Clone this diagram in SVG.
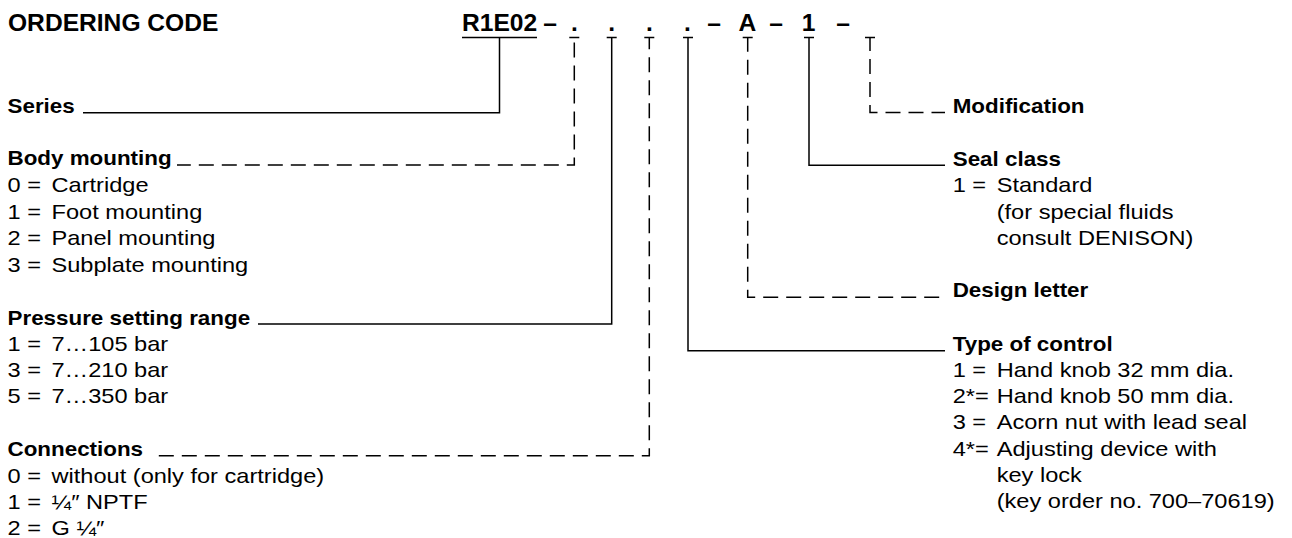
<svg xmlns="http://www.w3.org/2000/svg" width="1292" height="538" viewBox="0 0 1292 538">
<style>
text{font-family:"Liberation Sans",Arial,Helvetica,sans-serif;fill:#000}
.big{font-weight:bold;font-size:23px}
.b{font-weight:bold;font-size:20px}
.r{font-weight:normal;font-size:20px}
.solid{fill:none;stroke:#000;stroke-width:1.5}
.dash{fill:none;stroke:#000;stroke-width:1.5;stroke-dasharray:15 8}
</style>
<rect width="1292" height="538" fill="#fff"/>
<g id="title">
<text class="big" transform="translate(8,31) scale(1.07,1)">ORDERING CODE</text>
</g>
<g id="code" text-anchor="middle">
<text class="big" text-anchor="start" transform="translate(462,31) scale(1.07,1)">R1E02</text>
<text class="big" transform="translate(550,31) scale(1.07,1)">–</text>
<text class="big" transform="translate(574.3,31) scale(1.07,1)">.</text>
<text class="big" transform="translate(611.7,31) scale(1.07,1)">.</text>
<text class="big" transform="translate(649.3,31) scale(1.07,1)">.</text>
<text class="big" transform="translate(687.5,31) scale(1.07,1)">.</text>
<text class="big" transform="translate(714,31) scale(1.07,1)">–</text>
<text class="big" transform="translate(747.5,31) scale(1.07,1)">A</text>
<text class="big" transform="translate(776,31) scale(1.07,1)">–</text>
<text class="big" transform="translate(808.5,31) scale(1.07,1)">1</text>
<text class="big" transform="translate(843,31) scale(1.07,1)">–</text>
</g>
<g id="connectors">
<path class="solid" d="M462,37.5H537"/>
<path class="solid" d="M569.3,37.5H579.3M606.7,37.5H616.7M644.3,37.5H654.3M683,37.5H693M742.7,37.5H752.7M804,37.5H814M865,37.5H875"/>
<path class="solid" d="M499.5,37.5V112.7H83"/>
<path class="dash" style="stroke-dashoffset:18" d="M574.3,37.5V165H177"/>
<path class="solid" d="M611.7,37.5V324H258"/>
<path class="dash" style="stroke-dashoffset:3.3" d="M649.3,37.5V455.7H152"/>
<path class="solid" d="M688,37.5V350.7H945"/>
<path class="dash" style="stroke-dashoffset:0.7" d="M747.7,37.5V297.3H945"/>
<path class="solid" d="M809,37.5V165.3H945"/>
<path class="dash" style="stroke-dashoffset:1.5" d="M870,37.5V112.5H945"/>
</g>
<g id="series">
<text class="b" transform="translate(7.5,113) scale(1.12,1)">Series</text>
</g>
<g id="body-mounting">
<text class="b" transform="translate(7.5,165) scale(1.12,1)">Body mounting</text>
<text class="r" transform="translate(7.5,192) scale(1.18,1)"><tspan>0 =</tspan><tspan x="37.3">Cartridge</tspan></text>
<text class="r" transform="translate(7.5,219) scale(1.18,1)"><tspan>1 =</tspan><tspan x="37.3">Foot mounting</tspan></text>
<text class="r" transform="translate(7.5,245) scale(1.18,1)"><tspan>2 =</tspan><tspan x="37.3">Panel mounting</tspan></text>
<text class="r" transform="translate(7.5,272) scale(1.18,1)"><tspan>3 =</tspan><tspan x="37.3">Subplate mounting</tspan></text>
</g>
<g id="pressure-setting-range">
<text class="b" transform="translate(7.5,325) scale(1.12,1)">Pressure setting range</text>
<text class="r" transform="translate(7.5,351) scale(1.18,1)"><tspan>1 =</tspan><tspan x="37.3">7…105 bar</tspan></text>
<text class="r" transform="translate(7.5,377) scale(1.18,1)"><tspan>3 =</tspan><tspan x="37.3">7…210 bar</tspan></text>
<text class="r" transform="translate(7.5,403) scale(1.18,1)"><tspan>5 =</tspan><tspan x="37.3">7…350 bar</tspan></text>
</g>
<g id="connections">
<text class="b" transform="translate(7.5,456) scale(1.12,1)">Connections</text>
<text class="r" transform="translate(7.5,483) scale(1.18,1)"><tspan>0 =</tspan><tspan x="37.3">without (only for cartridge)</tspan></text>
<text class="r" transform="translate(7.5,509) scale(1.18,1)"><tspan>1 =</tspan><tspan x="37.3">¼″ NPTF</tspan></text>
<text class="r" transform="translate(7.5,535) scale(1.18,1)"><tspan>2 =</tspan><tspan x="37.3">G ¼″</tspan></text>
</g>
<g id="modification">
<text class="b" transform="translate(952.7,113) scale(1.12,1)">Modification</text>
</g>
<g id="seal-class">
<text class="b" transform="translate(952.7,166) scale(1.12,1)">Seal class</text>
<text class="r" transform="translate(952.7,192) scale(1.18,1)"><tspan>1 =</tspan><tspan x="37.3">Standard</tspan></text>
<text class="r" transform="translate(952.7,219) scale(1.18,1)"><tspan x="37.3">(for special fluids</tspan></text>
<text class="r" transform="translate(952.7,245) scale(1.18,1)"><tspan x="37.3">consult DENISON)</tspan></text>
</g>
<g id="design-letter">
<text class="b" transform="translate(952.7,297) scale(1.12,1)">Design letter</text>
</g>
<g id="type-of-control">
<text class="b" transform="translate(952.7,351) scale(1.12,1)">Type of control</text>
<text class="r" transform="translate(952.7,377) scale(1.18,1)"><tspan>1 =</tspan><tspan x="37.3">Hand knob 32 mm dia.</tspan></text>
<text class="r" transform="translate(952.7,403) scale(1.18,1)"><tspan>2*=</tspan><tspan x="37.3">Hand knob 50 mm dia.</tspan></text>
<text class="r" transform="translate(952.7,429) scale(1.18,1)"><tspan>3 =</tspan><tspan x="37.3">Acorn nut with lead seal</tspan></text>
<text class="r" transform="translate(952.7,456) scale(1.18,1)"><tspan>4*=</tspan><tspan x="37.3">Adjusting device with</tspan></text>
<text class="r" transform="translate(952.7,482) scale(1.18,1)"><tspan x="37.3">key lock</tspan></text>
<text class="r" transform="translate(952.7,508) scale(1.18,1)"><tspan x="37.3">(key order no. 700–70619)</tspan></text>
</g>
</svg>
